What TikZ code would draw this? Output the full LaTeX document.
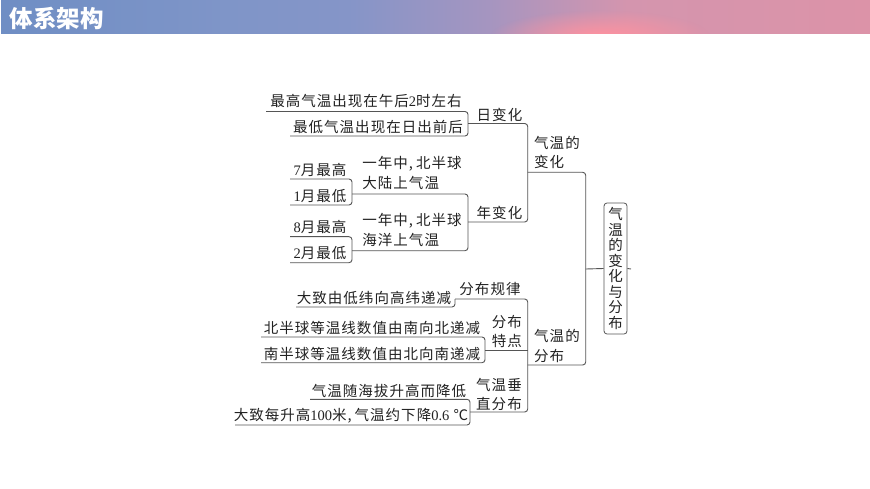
\documentclass[tikz,border=0pt]{standalone}
\usepackage{fontspec}
\setmainfont{Noto Sans CJK SC}[LetterSpace=7]
\newfontfamily\titlefont{Noto Sans CJK SC}
\newfontfamily\digitfont{Liberation Serif}
\newcommand{\dg}[1]{{\digitfont #1}}
\newcommand{\cm}{,\hspace{3pt}}
\usetikzlibrary{fadings}
\definecolor{linec}{HTML}{555555}
\definecolor{textc}{HTML}{222222}
\definecolor{glowc}{HTML}{FF929F}
\definecolor{hA}{HTML}{6F8EC4}
\definecolor{hB}{HTML}{7F95C8}
\definecolor{hC}{HTML}{8595C8}
\definecolor{hD}{HTML}{A595C0}
\definecolor{hE}{HTML}{D495AE}
\definecolor{hF}{HTML}{DC93A8}
\pgfdeclarehorizontalshading{hdr}{100bp}{
 color(0bp)=(hA); color(25bp)=(hA); color(38bp)=(hB); color(45bp)=(hC);
 color(53bp)=(hD); color(61bp)=(hE); color(75bp)=(hF); color(100bp)=(hF)}
\tikzfading[name=glowfade, inner color=transparent!0, outer color=transparent!100]
\tikzset{
 lab/.style={text=textc,font=\fontsize{14.5}{19.5}\selectfont,inner sep=0pt},
 lablft/.style={lab,align=left},
 rootbox/.style={lab,draw=linec,line width=0.8pt,rounded corners=3pt,align=center,
   minimum width=23pt,minimum height=131pt,font=\fontsize{14.5}{15.5}\selectfont},
 link/.style={draw=linec,line width=0.9pt,rounded corners=3pt}
}
\begin{document}
\begin{tikzpicture}[x=1pt,y=-1pt]
\useasboundingbox (0,0) rectangle (870,489);
\fill[white] (0,0) rectangle (870,489);
% header band
\begin{scope}
\clip (1,1) rectangle (870,34);
\shade[shading=hdr] (1,1) rectangle (870,34);
\fill[glowc,path fading=glowfade] (600,36) ellipse (110 and 26);
\end{scope}
\node[text=white,inner sep=0pt,font=\titlefont\bfseries\fontsize{23.5}{23.5}\selectfont] (title) at (56.5,18.5) {体系架构};
% junction coordinates
\coordinate (A1) at (266,111.5); \coordinate (A2) at (290,136); \coordinate (Am) at (468,123.5);
\coordinate (B1) at (290,179); \coordinate (B2) at (290,205); \coordinate (Bm) at (352,194);
\coordinate (C1) at (290,236.7); \coordinate (C2) at (290,262.7); \coordinate (Cm) at (352,250.7);
\coordinate (Dm) at (468,222);
\coordinate (Em) at (527.7,172.3);
\coordinate (F1) at (296,307); \coordinate (Fm) at (455,299);
\coordinate (H1) at (261,337); \coordinate (H2) at (261,362.7); \coordinate (Hm) at (485,350);
\coordinate (I1) at (310,399.3); \coordinate (I2) at (235,425); \coordinate (Im) at (470,412);
\coordinate (Gm) at (527.7,365);
\coordinate (Tm) at (585.7,269);
\coordinate (tail) at (631,269);
% root
\node[rootbox] (root) at (615.5,268.5) {气\\温\\的\\变\\化\\与\\分\\布};
% connectors
\draw[link] (A1) -| (Am) |- (A2);
\draw[link] (B1) -| (Bm) |- (B2);
\draw[link] (C1) -| (Cm) |- (C2);
\draw[link] (Bm) -| (Dm) |- (Cm);
\draw[link] (Am) -| (Em) |- (Dm);
\draw[link] (F1) -| (Fm);
\draw[link] (H1) -| (Hm) |- (H2);
\draw[link] (I1) -| (Im) |- (I2);
\draw[link] (Fm) -| (Gm) |- (Im);
\draw[link] (Hm) -- (Hm -| Gm);
\draw[link] (Em) -| (Tm) |- (Gm);
\draw[link] (Tm) -- (root.west);
\draw[link] (root.east) -- (tail);
% labels
\node[lab] (a1) at (366,101) {最高气温出现在午后\dg{2}时左右};
\node[lab] (a2) at (378,127) {最低气温出现在日出前后};
\node[lab] (am) at (499.5,115) {日变化};
\node[lab] (b1) at (320,170) {\dg{7}月最高};
\node[lab] (b2) at (320,196) {\dg{1}月最低};
\node[lablft] (bm) at (412,173) {一年中\cm 北半球\\大陆上气温};
\node[lab] (c1) at (320,227) {\dg{8}月最高};
\node[lab] (c2) at (320,253) {\dg{2}月最低};
\node[lablft] (cm) at (412,230) {一年中\cm 北半球\\海洋上气温};
\node[lab] (dm) at (499.5,213) {年变化};
\node[lablft] (em) at (557,152.5) {气温的\\变化};
\node[lab] (fm) at (490,289) {分布规律};
\node[lab] (f1) at (374,298) {大致由低纬向高纬递减};
\node[lab] (h1) at (372,328) {北半球等温线数值由南向北递减};
\node[lab] (h2) at (372,354) {南半球等温线数值由北向南递减};
\node[lablft] (hm) at (507,331.5) {分布\\特点};
\node[lab] (i1) at (389,391) {气温随海拔升高而降低};
\node[lab] (i2) at (351,416) {大致每升高\dg{100}米\cm 气温约下降\dg{0.6} ℃};
\node[lablft] (im) at (499,394.5) {气温垂\\直分布};
\node[lablft] (gm) at (557,346) {气温的\\分布};
\end{tikzpicture}
\end{document}
